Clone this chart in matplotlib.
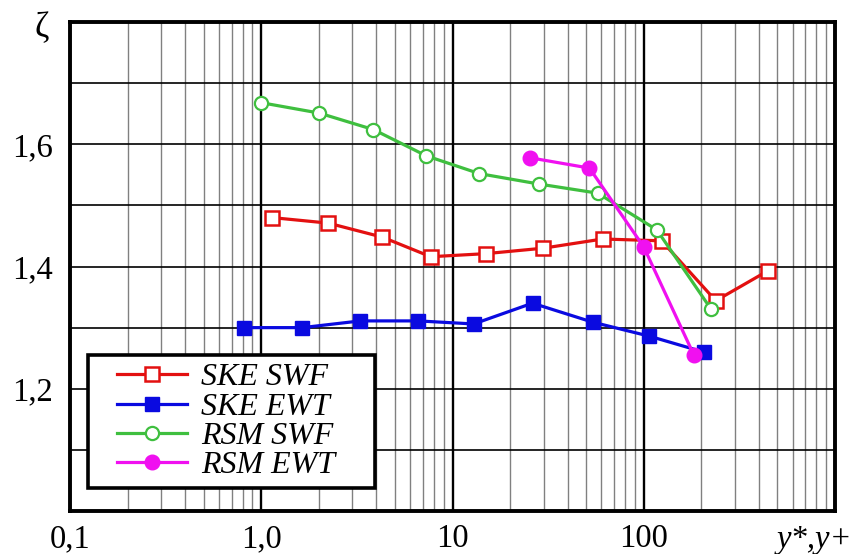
import numpy as np
import matplotlib.pyplot as plt
from matplotlib.ticker import LogLocator, FixedLocator, NullFormatter
from matplotlib.legend_handler import HandlerLine2D
from matplotlib.transforms import Affine2D

# --- values ---
ske_swf_x = [1.14, 2.24, 4.3, 7.7, 14.9, 29.9, 61, 124, 238, 446]
ske_swf_y = [1.480, 1.471, 1.448, 1.416, 1.421, 1.430, 1.445, 1.442, 1.344, 1.393]

ske_ewt_x = [0.815, 1.64, 3.3, 6.6, 12.9, 26.2, 54, 107, 206]
ske_ewt_y = [1.300, 1.300, 1.311, 1.311, 1.306, 1.340, 1.309, 1.286, 1.260]

rsm_swf_x = [1.0, 2.01, 3.86, 7.3, 13.8, 28.2, 57.4, 117, 224]
rsm_swf_y = [1.668, 1.651, 1.624, 1.581, 1.552, 1.535, 1.520, 1.460, 1.331]

rsm_ewt_x = [25.3, 52, 100, 183]
rsm_ewt_y = [1.578, 1.561, 1.432, 1.255]

x_ticks = [0.1, 1, 10, 100]
x_tick_labels = ["0,1", "1,0", "10", "100"]
y_ticks = [1.2, 1.4, 1.6]
y_tick_labels = ["1,2", "1,4", "1,6"]

serif = ["Liberation Serif", "DejaVu Serif"]
plt.rcParams['font.family'] = serif


class ShiftedHandler(HandlerLine2D):
    # moves the legend sample right, so the box has a wider left margin
    def __init__(self, shift, **kw):
        super().__init__(**kw)
        self.shift = shift

    def create_artists(self, legend, orig_handle, xdescent, ydescent,
                       width, height, fontsize, trans):
        trans = trans + Affine2D().translate(self.shift, 0)
        return super().create_artists(legend, orig_handle, xdescent, ydescent,
                                      width, height, fontsize, trans)


fig = plt.figure(figsize=(8.56, 5.54), dpi=100)
ax = fig.add_axes([70 / 856, 1 - 511 / 554, 765 / 856, 489 / 554])

ax.set_xscale('log')
ax.set_xlim(0.1, 1000)
ax.set_ylim(1.0, 1.8)

# grid: thick decades, thin grey minors, black horizontals
ax.xaxis.set_major_locator(FixedLocator(x_ticks))
ax.xaxis.set_minor_locator(LogLocator(base=10, subs=np.arange(2, 10), numticks=20))
ax.xaxis.set_minor_formatter(NullFormatter())
ax.set_xticklabels(x_tick_labels)
ax.set_yticks(np.arange(1.1, 1.75, 0.1), minor=True)
ax.set_yticks(y_ticks)
ax.set_yticklabels(y_tick_labels)

ax.grid(which='major', axis='x', color='black', linewidth=1.7)
ax.grid(which='minor', axis='x', color='#808080', linewidth=1.0)
ax.grid(which='both', axis='y', color='black', linewidth=1.2)
ax.set_axisbelow(True)

ax.tick_params(which='both', length=0, labelsize=23.5)
ax.tick_params(axis='x', pad=9)
ax.tick_params(axis='y', pad=12)
for s in ax.spines.values():
    s.set_linewidth(2.8)

ax.plot(ske_swf_x, ske_swf_y, color='#e31010', lw=2.3, marker='s', ms=10,
        mfc='white', mec='#e31010', mew=1.8, label='SKE SWF', zorder=3)
ax.plot(ske_ewt_x, ske_ewt_y, color='#0a0ae0', lw=2.3, marker='s', ms=10.5,
        mfc='#0a0ae0', mec='#0a0ae0', label='SKE EWT', zorder=3)
ax.plot(rsm_swf_x, rsm_swf_y, color='#3fbf3f', lw=2.3, marker='o', ms=9.5,
        mfc='white', mec='#3fbf3f', mew=1.6, label='RSM SWF', zorder=3)
ax.plot(rsm_ewt_x, rsm_ewt_y, color='#f010f0', lw=2.3, marker='o', ms=10.5,
        mfc='#f010f0', mec='#f010f0', label='RSM EWT', zorder=3)

handles, labels = ax.get_legend_handles_labels()
leg = ax.legend(handles, labels, loc='upper left', mode='expand',
                bbox_to_anchor=(88 / 856, 1 - 490 / 554, 287 / 856, 135 / 554),
                bbox_transform=fig.transFigure,
                prop={'family': serif, 'style': 'italic', 'size': 23},
                frameon=True, fancybox=False, edgecolor='black', framealpha=1,
                handlelength=2.2, handletextpad=1.1, labelspacing=0.0,
                borderpad=0.25, borderaxespad=0,
                handler_map={h: ShiftedHandler(21) for h in handles})
leg.get_frame().set_linewidth(2.6)
leg.set_zorder(5)

fig.text(42 / 856, 1 - 29 / 554, "ζ", fontsize=25, ha='center', va='center')
fig.text(852 / 856, 6 / 554, "y*,y+", fontsize=23.5, style='italic', ha='right', va='baseline')

fig.savefig('out.png', dpi=100)
